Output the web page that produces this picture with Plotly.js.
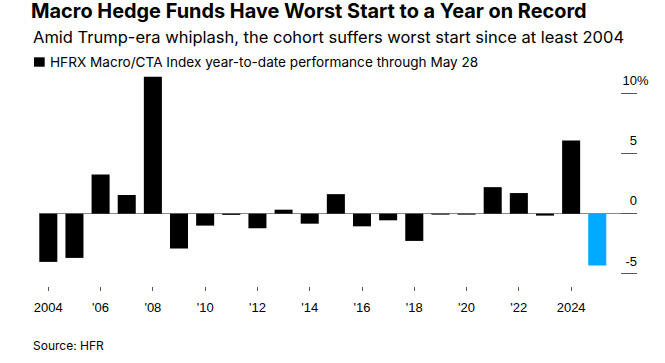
<!DOCTYPE html>
<html>
<head>
<meta charset="utf-8">
<script src="https://cdn.plot.ly/plotly-3.0.1.min.js"></script>
<style>html,body{margin:0;padding:0;background:#fff;}#chart{width:665px;height:363px;}</style>
</head>
<body>
<div id="chart"></div>
<script>
// ---- data ----
const years = [2004,2005,2006,2007,2008,2009,2010,2011,2012,2013,2014,2015,2016,2017,2018,2019,2020,2021,2022,2023,2024,2025];
const ytdPerformance = [-4.0,-3.67,3.25,1.55,11.35,-2.89,-0.99,-0.1,-1.21,0.33,-0.83,1.62,-1.05,-0.55,-2.26,-0.08,-0.08,2.2,1.71,-0.16,6.06,-4.3];
const highlightYear = 2025;
const xTickVals = [2004,2006,2008,2010,2012,2014,2016,2018,2020,2022,2024];
const xTickText = ['2004',"'06","'08","'10","'12","'14","'16","'18","'20","'22",'2024'];
const yTickVals = [-5,0,5,10];
const yTickText = ['-5','0','5','10%'];
const titleText = 'Macro Hedge Funds Have Worst Start to a Year on Record';
const subtitleText = 'Amid Trump-era whiplash, the cohort suffers worst start since at least 2004';
const seriesName = 'HFRX Macro/CTA Index year-to-date performance through May 28';
const sourceText = 'Source: HFR';

// ---- layout geometry ----
const W = 665, H = 363;
const M = {l: 39, r: 28, t: 66, b: 76.5};
const plotW = W - M.l - M.r, plotH = H - M.t - M.b;
const px2x = px => (px - M.l) / plotW;
const px2y = py => (H - M.b - py) / plotH;

const hidden = '<span style="color:rgba(0,0,0,0)">%</span>';
const yTickLabels = yTickText.map(t => t.endsWith('%') ? t : t + hidden);

const mainX = [], mainY = [], hiX = [], hiY = [];
years.forEach((yr, i) => {
  if (yr === highlightYear) { hiX.push(yr); hiY.push(ytdPerformance[i]); }
  else { mainX.push(yr); mainY.push(ytdPerformance[i]); }
});

const FONT = 'Liberation Sans, Arial, sans-serif';
const TFONT = 'Inter, Liberation Sans, Arial, sans-serif';

const traces = [
  {type: 'bar', x: mainX, y: mainY, name: seriesName, marker: {color: '#000000'}, width: 0.69, showlegend: false, hoverinfo: 'x+y'},
  {type: 'bar', x: hiX, y: hiY, name: String(highlightYear), marker: {color: '#00aaff'}, width: 0.69, showlegend: false, hoverinfo: 'x+y'}
];

const layout = {
  width: W, height: H,
  margin: M,
  paper_bgcolor: '#ffffff', plot_bgcolor: '#ffffff',
  font: {family: FONT, size: 13, color: '#000'},
  barmode: 'overlay',
  showlegend: false,
  title: {
    text: '<b>' + titleText + '</b>',
    xref: 'container', yref: 'container',
    x: 31 / W, xanchor: 'left',
    y: 1 - 11 / H, yanchor: 'middle',
    font: {family: TFONT, size: 19.9, color: '#000'}
  },
  xaxis: {
    range: [2003.644, 2026.52],
    tickmode: 'array', tickvals: xTickVals, ticktext: xTickText,
    ticks: 'outside', ticklen: 4, tickwidth: 1, tickcolor: '#555',
    ticklabelstandoff: 5,
    showgrid: false, zeroline: false, showline: false,
    tickfont: {family: FONT, size: 13, color: '#000'},
    fixedrange: true
  },
  yaxis: {
    side: 'right',
    range: [-6.0, 12.25],
    tickmode: 'array', tickvals: yTickVals, ticktext: yTickLabels,
    ticks: 'inside', ticklen: 16, tickwidth: 1, tickcolor: '#555',
    ticklabelposition: 'inside',
    ticklabelshift: -13,
    ticklabelstandoff: -28,
    showgrid: false, showline: false,
    zeroline: true, zerolinecolor: '#888', zerolinewidth: 1,
    tickfont: {family: FONT, size: 13, color: '#000'},
    fixedrange: true
  },
  shapes: [
    {type: 'rect', xref: 'paper', yref: 'paper', x0: px2x(34), x1: px2x(44.7), y0: px2y(66.7), y1: px2y(57.3), fillcolor: '#000', line: {width: 0}}
  ],
  annotations: [
    {text: subtitleText, xref: 'paper', yref: 'paper', x: px2x(30.5), y: px2y(37), xanchor: 'left', yanchor: 'middle', showarrow: false, font: {family: TFONT, size: 16.5, color: '#000'}},
    {text: seriesName, xref: 'paper', yref: 'paper', x: px2x(47.5), y: px2y(61.5), xanchor: 'left', yanchor: 'middle', showarrow: false, font: {family: TFONT, size: 13.6, color: '#000'}},
    {text: sourceText, xref: 'paper', yref: 'paper', x: px2x(31), y: px2y(346), xanchor: 'left', yanchor: 'middle', showarrow: false, font: {family: TFONT, size: 12, color: '#000'}}
  ]
};

Plotly.newPlot('chart', traces, layout, {displayModeBar: false, staticPlot: true});
</script>
</body>
</html>
